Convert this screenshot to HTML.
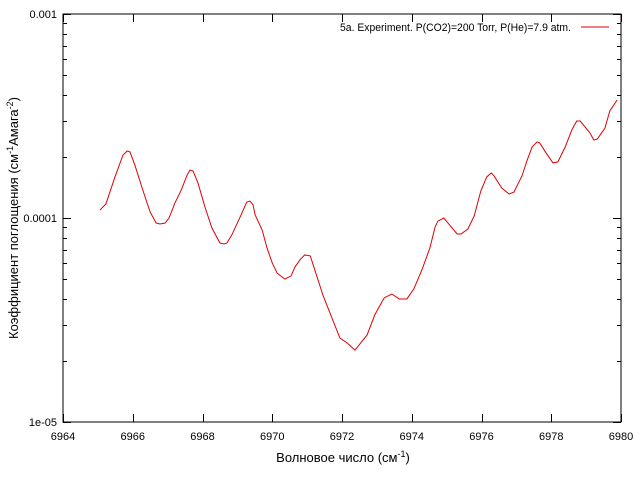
<!DOCTYPE html>
<html><head><meta charset="utf-8"><style>
html,body{margin:0;padding:0;background:#fff;}
svg{display:block;font-family:"Liberation Sans","DejaVu Sans",sans-serif;}
</style></head><body>
<svg id="chart" width="640" height="480" viewBox="0 0 640 480" xmlns="http://www.w3.org/2000/svg">
<rect x="63" y="14" width="558" height="408" fill="none" stroke="#000" stroke-width="1"/>
<g id="ticks"></g>
<g id="labels" font-size="11" fill="#000"></g>
<text transform="translate(18,218) rotate(-90)" text-anchor="middle" font-size="13">Коэффициент поглощения (см<tspan dy="-5" font-size="9">-1</tspan><tspan dy="5">Амага</tspan><tspan dy="-5" font-size="9">-2</tspan><tspan dy="5">)</tspan></text>
<text x="343" y="462" text-anchor="middle" font-size="13">Волновое число (см<tspan dy="-5" font-size="9">-1</tspan><tspan dy="5">)</tspan></text>
<g>
<text x="340" y="31" font-size="11" textLength="231" lengthAdjust="spacingAndGlyphs">5a. Experiment. P(CO2)=200 Torr, P(He)=7.9 atm.</text>
<line x1="581" y1="27" x2="609" y2="27" stroke="#e00000" stroke-width="1"/>
</g>
<path id="series" fill="none" stroke="#e00000" stroke-width="1"/>
</svg>
<script>
const xTicks = [6964,6966,6968,6970,6972,6974,6976,6978,6980];
const yTicks = [0.001,0.0001,0.00001];
const yTickLabels = ["0.001","0.0001","1e-05"];
const wavenumbers = [6965.06,6965.23,6965.49,6965.72,6965.84,6965.92,6966.06,6966.26,6966.41,6966.50,6966.67,6966.78,6966.93,6967.04,6967.21,6967.39,6967.56,6967.64,6967.73,6967.87,6968.07,6968.27,6968.50,6968.62,6968.70,6968.84,6969.08,6969.27,6969.36,6969.45,6969.51,6969.71,6969.85,6970.00,6970.14,6970.36,6970.54,6970.65,6970.79,6970.93,6971.09,6971.25,6971.45,6971.71,6971.94,6972.15,6972.37,6972.72,6972.94,6973.21,6973.43,6973.64,6973.86,6974.06,6974.29,6974.52,6974.67,6974.75,6974.92,6975.06,6975.30,6975.41,6975.61,6975.79,6975.98,6976.15,6976.28,6976.36,6976.58,6976.79,6976.93,6977.16,6977.31,6977.45,6977.59,6977.67,6977.85,6978.05,6978.19,6978.40,6978.59,6978.73,6978.83,6979.11,6979.22,6979.32,6979.54,6979.68,6979.89];
const absorption = [10.94,11.72,15.89,20.37,21.31,21.09,18.20,14.19,11.86,10.69,9.45,9.35,9.45,10.0,11.86,13.71,16.26,17.18,16.98,14.85,11.32,8.93,7.54,7.46,7.54,8.26,10.12,11.97,12.11,11.59,10.35,8.73,7.13,6.02,5.37,5.02,5.20,5.75,6.22,6.59,6.52,5.37,4.20,3.24,2.58,2.44,2.25,2.67,3.35,4.06,4.24,4.01,4.01,4.49,5.56,7.13,9.04,9.66,10.0,9.35,8.35,8.35,8.83,10.23,13.56,15.89,16.63,16.07,14.03,13.12,13.40,16.07,19.23,22.28,23.60,23.33,20.84,18.62,18.84,22.28,27.0,29.88,29.88,26.12,24.12,24.38,27.61,33.50,37.87];
const yScaleUnit = 1e-5;

const L=63,R=621,T=14,B=422,X0=6964,X1=6980,LY0=-5,LY1=-3;
function sx(v){return L+(v-X0)/(X1-X0)*(R-L);}
function sy(v){return B-(Math.log10(v)-LY0)/(LY1-LY0)*(B-T);}
const NS="http://www.w3.org/2000/svg";
const tg=document.getElementById('ticks'), lg=document.getElementById('labels');
function ln(x1,y1,x2,y2,name){const e=document.createElementNS(NS,'line');
e.setAttribute('x1',x1);e.setAttribute('y1',y1);e.setAttribute('x2',x2);e.setAttribute('y2',y2);
e.setAttribute('stroke','#000');e.setAttribute('stroke-width','1');


tg.appendChild(e);}
function tx(x,y,s,anchor,name){const e=document.createElementNS(NS,'text');
e.setAttribute('x',x);e.setAttribute('y',y);e.setAttribute('text-anchor',anchor);e.textContent=s;


lg.appendChild(e);}
xTicks.forEach(v=>{const x=Math.round(sx(v))+0.5;ln(x,B,x,B-8,'x-tick');ln(x,T,x,T+8,'x-tick-top');tx(sx(v),440,String(v),'middle','x-tick-label');});
yTicks.forEach((v,i)=>{const y=Math.round(sy(v))+0.5;ln(L,y,L+8,y,'y-tick');ln(R,y,R-8,y,'y-tick-right');tx(57,sy(v)+4,yTickLabels[i],'end','y-tick-label');});
for(let d=-5;d<-3;d++){for(let m=2;m<10;m++){const y=Math.round(sy(m*Math.pow(10,d)))+0.5;ln(L,y,L+4,y,'y-minor-tick');ln(R,y,R-4,y,'y-minor-tick-right');}}
let p='';wavenumbers.forEach((w,i)=>{p+=(i?'L':'M')+sx(w).toFixed(2)+','+sy(absorption[i]*yScaleUnit).toFixed(2);});
document.getElementById('series').setAttribute('d',p);
</script>
</body></html>
